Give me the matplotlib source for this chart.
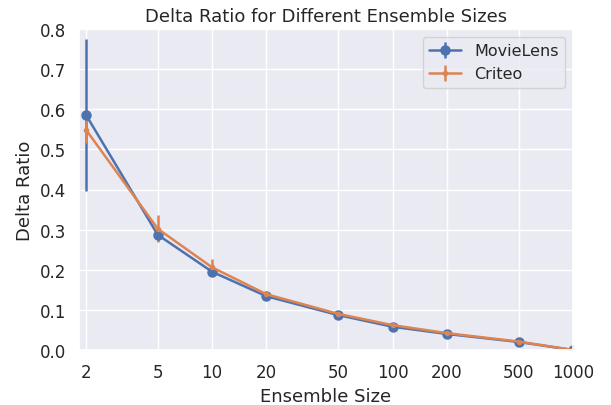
import matplotlib
matplotlib.use("Agg")
import matplotlib.pyplot as plt
import seaborn as sns
import numpy as np

sns.set_theme(style="darkgrid")
plt.rcParams['font.family'] = ['DejaVu Sans']

ensemble_sizes = [2, 5, 10, 20, 50, 100, 200, 500, 1000]
tick_labels = ["2", "5", "10", "20", "50", "100", "200", "500", "1000"]

movielens_mean = [0.586, 0.287, 0.195, 0.134, 0.087, 0.058, 0.040, 0.020, 0.0]
movielens_err = [0.19, 0.016, 0.008, 0.005, 0.008, 0.004, 0.003, 0.002, 0.0]

criteo_mean = [0.549, 0.302, 0.206, 0.139, 0.090, 0.062, 0.042, 0.021, 0.0]
criteo_err = [0.034, 0.034, 0.020, 0.004, 0.004, 0.003, 0.002, 0.002, 0.0]

fig = plt.figure(figsize=(6.11, 4.06), dpi=100)
ax = fig.add_axes([79/611, 55/406, (573-79)/611, (351-30)/406])

ax.errorbar(ensemble_sizes, movielens_mean, yerr=movielens_err, marker='o',
            markersize=6.5, color='#4c72b0', linewidth=1.8, elinewidth=1.8,
            label='MovieLens')
ax.errorbar(ensemble_sizes, criteo_mean, yerr=criteo_err, marker='o',
            markersize=3, color='#dd8452', linewidth=1.8, elinewidth=1.8,
            label='Criteo')

ax.set_xscale('log')
ax.set_xlim(1.83, 1000)
ax.set_ylim(0, 0.8)
ax.set_xticks(ensemble_sizes)
ax.set_xticklabels(tick_labels)
ax.xaxis.set_minor_locator(matplotlib.ticker.NullLocator())
ax.set_yticks(np.arange(0, 0.81, 0.1))
ax.tick_params(labelsize=12)
ax.set_xlabel('Ensemble Size', fontsize=13)
ax.set_ylabel('Delta Ratio', fontsize=13)
ax.set_title('Delta Ratio for Different Ensemble Sizes', fontsize=13)
ax.legend(fontsize=11.5, loc='upper right')

fig.savefig('out.png', dpi=100)
